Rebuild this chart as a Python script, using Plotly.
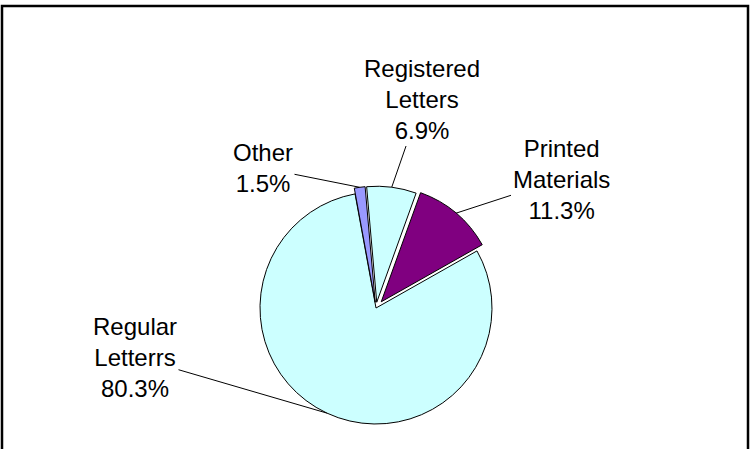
import math
import plotly.graph_objs as go

labels = ['Registered Letters', 'Printed Materials', 'Regular Letterrs', 'Other']
values = [6.9, 11.3, 80.3, 1.5]
colors = ['#CCFFFF', '#800080', '#CCFFFF', '#9999FF']
pulls = [0.05, 0.07, 0.0, 0.05]

# where the label text blocks sit (pixels from top-left)
label_pos = [(422, 100), (561, 179), (135, 357), (263, 168)]

W, H = 752, 449
cx, cy = 376, 308      # pie centre in pixels
r = 116                 # pie radius in pixels
rot = -5                # start angle, degrees from 12 o'clock
maxpull = max(pulls)
half = r * (1 + maxpull)

fig = go.Figure()
fig.add_trace(go.Pie(
    labels=labels,
    values=values,
    sort=False,
    direction='clockwise',
    rotation=rot,
    pull=pulls,
    marker=dict(colors=colors, line=dict(color='black', width=1)),
    textinfo='none',
    hoverinfo='label+percent',
    showlegend=False,
    domain=dict(x=[(cx - half) / W, (cx + half) / W],
                y=[(H - cy - half) / H, (H - cy + half) / H]),
))

# leader lines go from each label to the middle of its slice's rim
total = sum(values)
start = rot
annotations = []
for lab, v, p, (lx, ly) in zip(labels, values, pulls, label_pos):
    span = 360 * v / total
    mid = math.radians(start + span / 2)
    start += span
    tx = cx + r * (1 + p) * math.sin(mid)
    ty = cy - r * (1 + p) * math.cos(mid)
    annotations.append(dict(
        x=tx / W, y=1 - ty / H, xref='paper', yref='paper',
        text=lab.replace(' ', '<br>') + '<br>%.1f%%' % v,
        showarrow=True, arrowhead=0, arrowwidth=1, arrowcolor='black',
        ax=lx - tx, ay=ly - ty, standoff=0,
        font=dict(family='Liberation Sans, Arial', size=24, color='black'),
        align='center',
    ))

fig.update_layout(
    width=W, height=H,
    margin=dict(l=0, r=0, t=0, b=0),
    paper_bgcolor='white',
    plot_bgcolor='white',
    annotations=annotations,
    shapes=[dict(type='rect', xref='paper', yref='paper',
                 x0=2 / W, x1=748 / W, y0=-0.05, y1=1 - 6 / H,
                 line=dict(color='black', width=2.5))],
)

# page body has a default 8px margin; drop it so the chart fills the window
fig.write_html('out.html', config={'displayModeBar': False},
               post_script="document.body.style.margin='0';")
